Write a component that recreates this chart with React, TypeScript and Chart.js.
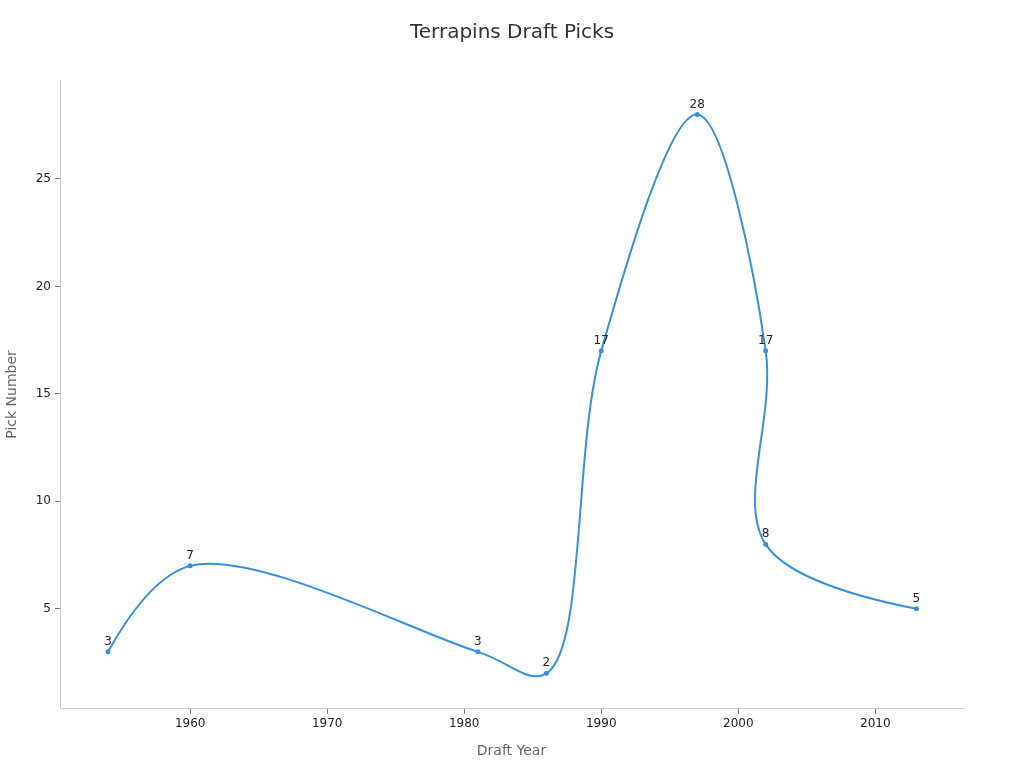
import { useEffect, useRef } from 'react'
import Chart from 'chart.js/auto'

const years = [1954, 1960, 1981, 1986, 1990, 1997, 2002, 2002, 2013]
const picks = [3, 7, 3, 2, 17, 28, 17, 8, 5]
const xTicks = [1960, 1970, 1980, 1990, 2000, 2010]
const yTicks = [5, 10, 15, 20, 25]

const FONT = 'DejaVu Sans'
const LINE = '#3490e6'
const SMOOTHING = 1

// centripetal spline tangents, applied on top of the pixel positions chart.js gives
function tangent(p: any, c: any, n: any, s: number) {
  const d1x = p.x - c.x
  const d1y = p.y - c.y
  const d2x = n.x - c.x
  const d2y = n.y - c.y
  const d1a = Math.pow(d1x * d1x + d1y * d1y, 0.25)
  const d2a = Math.pow(d2x * d2x + d2y * d2y, 0.25)
  const numx = (d2a * d2a * d1x - d1a * d1a * d2x) * s
  const numy = (d2a * d2a * d1y - d1a * d1a * d2y) * s
  const den1 = 3 * d2a * (d1a + d2a)
  const den2 = 3 * d1a * (d1a + d2a)
  return {
    inX: c.x + (den1 ? numx / den1 : 0),
    inY: c.y + (den1 ? numy / den1 : 0),
    outX: c.x - (den2 ? numx / den2 : 0),
    outY: c.y - (den2 ? numy / den2 : 0),
  }
}

const smoothLine = {
  id: 'smoothLine',
  beforeDatasetDraw(chart: any, args: any) {
    const meta = args.meta
    const line = meta.dataset
    if (!line) return
    line.updateControlPoints(chart.chartArea, 'x')
    const pts = meta.data
    const n = pts.length
    if (n < 3) return
    const t: any[] = []
    for (let i = 1; i < n - 1; i++) {
      const tg = tangent(pts[i - 1], pts[i], pts[i + 1], SMOOTHING)
      pts[i].cp1x = tg.inX
      pts[i].cp1y = tg.inY
      pts[i].cp2x = tg.outX
      pts[i].cp2y = tg.outY
      t[i] = tg
    }
    // first and last segments are quadratic
    const a = pts[0]
    const b = pts[1]
    a.cp2x = a.x + (2 / 3) * (t[1].inX - a.x)
    a.cp2y = a.y + (2 / 3) * (t[1].inY - a.y)
    b.cp1x = b.x + (2 / 3) * (t[1].inX - b.x)
    b.cp1y = b.y + (2 / 3) * (t[1].inY - b.y)
    const y = pts[n - 2]
    const z = pts[n - 1]
    y.cp2x = y.x + (2 / 3) * (t[n - 2].outX - y.x)
    y.cp2y = y.y + (2 / 3) * (t[n - 2].outY - y.y)
    z.cp1x = z.x + (2 / 3) * (t[n - 2].outX - z.x)
    z.cp1y = z.y + (2 / 3) * (t[n - 2].outY - z.y)
  },
}

const pointLabels = {
  id: 'pointLabels',
  afterDatasetsDraw(chart: Chart) {
    const ctx = chart.ctx
    const meta = chart.getDatasetMeta(0)
    ctx.save()
    ctx.font = `12px "${FONT}"`
    ctx.fillStyle = '#222'
    ctx.textAlign = 'center'
    ctx.textBaseline = 'bottom'
    meta.data.forEach((pt, i) => {
      ctx.fillText(String(picks[i]), pt.x, pt.y - 4)
    })
    ctx.restore()
  },
}

const pageTitle = {
  id: 'pageTitle',
  afterDraw(chart: Chart) {
    const ctx = chart.ctx
    ctx.save()
    ctx.font = `20px "${FONT}"`
    ctx.fillStyle = '#333'
    ctx.textAlign = 'center'
    ctx.textBaseline = 'middle'
    ctx.fillText('Terrapins Draft Picks', chart.width / 2, 33)
    ctx.restore()
  },
}

export default function App() {
  const canvasRef = useRef<HTMLCanvasElement>(null)
  const chartRef = useRef<Chart | null>(null)

  useEffect(() => {
    document.body.style.margin = '0'
    const canvas = canvasRef.current
    if (!canvas) return
    const ctx = canvas.getContext('2d')
    if (!ctx) return
    if (chartRef.current) chartRef.current.destroy()

    chartRef.current = new Chart(ctx, {
      type: 'line',
      data: {
        datasets: [
          {
            label: 'Pick Number',
            data: years.map((y, i) => ({ x: y, y: picks[i] })),
            borderColor: LINE,
            backgroundColor: LINE,
            borderWidth: 2,
            tension: 0.4,
            pointRadius: 2.5,
            pointBackgroundColor: LINE,
            pointBorderWidth: 0,
            fill: false,
          },
        ],
      },
      options: {
        animation: false,
        responsive: true,
        maintainAspectRatio: false,
        layout: { padding: { top: 80, left: 0, right: 61, bottom: 8 } },
        plugins: {
          legend: { display: false },
          tooltip: { enabled: false },
          title: { display: false },
        },
        scales: {
          x: {
            type: 'linear',
            min: 1950.5,
            max: 2016.4,
            grid: { display: true, drawOnChartArea: false, color: '#777', tickLength: 5 },
            border: { display: true, color: '#ccc' },
            afterBuildTicks: (s: any) => {
              s.ticks = xTicks.map((v) => ({ value: v }))
            },
            ticks: {
              color: '#222',
              padding: 3,
              maxRotation: 0,
              font: { family: FONT, size: 12 },
              callback: (v: any) => String(v),
            },
            title: {
              display: true,
              text: 'Draft Year',
              color: '#666',
              font: { family: FONT, size: 14 },
              padding: { top: 9, bottom: 0 },
            },
          },
          y: {
            min: 0.35,
            max: 29.6,
            grid: { display: true, drawOnChartArea: false, color: '#777', tickLength: 5 },
            border: { display: true, color: '#ccc' },
            afterBuildTicks: (s: any) => {
              s.ticks = yTicks.map((v) => ({ value: v }))
            },
            afterFit: (s: any) => {
              s.width = 60
            },
            ticks: {
              color: '#222',
              padding: 4,
              font: { family: FONT, size: 12 },
            },
            title: {
              display: true,
              text: 'Pick Number',
              color: '#666',
              font: { family: FONT, size: 14 },
              padding: { top: 4, bottom: 8 },
            },
          },
        },
      },
      plugins: [smoothLine, pointLabels, pageTitle],
    })

    return () => {
      if (chartRef.current) {
        chartRef.current.destroy()
        chartRef.current = null
      }
    }
  }, [])

  return (
    <div style={{ width: 1024, height: 768 }}>
      <canvas ref={canvasRef} />
    </div>
  )
}
